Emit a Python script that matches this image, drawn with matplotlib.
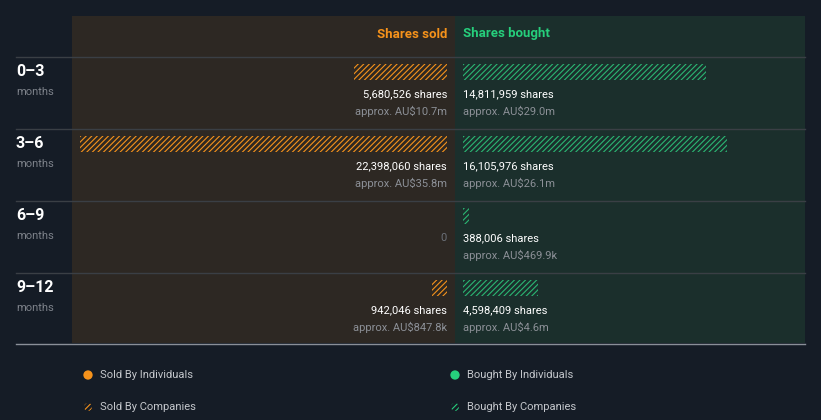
import numpy as np
import matplotlib
matplotlib.use('Agg')
import matplotlib.pyplot as plt
from matplotlib.patches import Rectangle, Circle

plt.rcParams['font.family'] = ['Roboto', 'DejaVu Sans']
plt.rcParams['hatch.linewidth'] = 0.8

# data
periods = ['0–3', '3–6', '6–9', '9–12']
sold_shares = [5680526, 22398060, 0, 942046]
sold_value = ['AU$10.7m', 'AU$35.8m', None, 'AU$847.8k']
bought_shares = [14811959, 16105976, 388006, 4598409]
bought_value = ['AU$29.0m', 'AU$26.1m', 'AU$469.9k', 'AU$4.6m']

W, H = 821, 420
BG = '#151c26'
SOLD_BG = '#2d2823'
BOUGHT_BG = '#1b2f2c'
ORANGE = '#f5921b'
GREEN = '#26cf7c'
HATCH_GREEN = '#2bb673'
GREY = '#8c9097'
LINE = '#3a3f45'
HATCH = '//////'

fig = plt.figure(figsize=(W / 100, H / 100), dpi=100, facecolor=BG)

# pixel-space background axes
bg = fig.add_axes([0, 0, 1, 1])
bg.set_xlim(0, W)
bg.set_ylim(H, 0)
bg.axis('off')
bg.add_patch(Rectangle((72, 16), 455 - 72, 343 - 16, color=SOLD_BG, lw=0))
bg.add_patch(Rectangle((455, 16), 805 - 455, 343 - 16, color=BOUGHT_BG, lw=0))
for i in range(4):
    bg.plot([16, 805], [57 + 72 * i, 57 + 72 * i], color=LINE, lw=1)
bg.plot([16, 805], [344, 344], color='#8a8f98', lw=1)

bg.text(447, 34, 'Shares sold', color=ORANGE, fontsize=9.5, fontweight='bold',
        ha='right', va='center')
bg.text(463, 34, 'Shares bought', color=GREEN, fontsize=9.5, fontweight='bold',
        ha='left', va='center')
for i, p in enumerate(periods):
    bg.text(16, 71 + 72 * i, p, color='white', fontsize=11.5, fontweight='bold',
            ha='left', va='center')
    bg.text(16, 92 + 72 * i, 'months', color='#7d828a', fontsize=8,
            ha='left', va='center')

# legend
bg.scatter([88, 455], [375, 375], s=45, color=[ORANGE, GREEN], lw=0)
bg.add_patch(Circle((88, 407), 4, facecolor='none', edgecolor=ORANGE,
                    hatch='//////', lw=0))
bg.add_patch(Circle((455, 407), 4, facecolor='none', edgecolor=GREEN,
                    hatch='//////', lw=0))
for x, y, t in [(100, 375, 'Sold By Individuals'), (467, 375, 'Bought By Individuals'),
                (100, 407, 'Sold By Companies'), (467, 407, 'Bought By Companies')]:
    bg.text(x, y, t, color='#c4c7cc', fontsize=8, ha='left', va='center')

# bar axes share a common px-per-share scale
scale = 367 / max(sold_shares)
top, bottom = 57, 345
rows = np.arange(len(periods))
bar_y = rows + 15 / 72
bar_h = 16 / 72

sold_ax = fig.add_axes([72 / W, 1 - bottom / H, (455 - 72) / W, (bottom - top) / H])
sold_ax.set_xlim((447 - 72) / scale, -(455 - 447) / scale)
bought_ax = fig.add_axes([455 / W, 1 - bottom / H, (805 - 455) / W, (bottom - top) / H])
bought_ax.set_xlim(-(463 - 455) / scale, (805 - 463) / scale)
for a in (sold_ax, bought_ax):
    a.set_ylim(4, 0)
    a.axis('off')
    a.patch.set_alpha(0)

sold_ax.barh(bar_y, sold_shares, height=bar_h, left=0, facecolor='none',
             edgecolor=ORANGE, hatch=HATCH, lw=0)
bought_ax.barh(bar_y, bought_shares, height=bar_h, left=0, facecolor='none',
               edgecolor=HATCH_GREEN, hatch=HATCH, lw=0)

for i in rows:
    if sold_shares[i]:
        sold_ax.text(0, i + 37 / 72, f'{sold_shares[i]:,} shares', color='white',
                     fontsize=8, ha='right', va='center')
        sold_ax.text(0, i + 54 / 72, f'approx. {sold_value[i]}', color=GREY,
                     fontsize=8, ha='right', va='center')
    else:
        sold_ax.text(0, i + 37 / 72, '0', color='#6b7078', fontsize=8,
                     ha='right', va='center')
    bought_ax.text(0, i + 37 / 72, f'{bought_shares[i]:,} shares', color='white',
                   fontsize=8, ha='left', va='center')
    bought_ax.text(0, i + 54 / 72, f'approx. {bought_value[i]}', color=GREY,
                   fontsize=8, ha='left', va='center')

plt.savefig('out.png', dpi=100, facecolor=BG)
plt.close()
